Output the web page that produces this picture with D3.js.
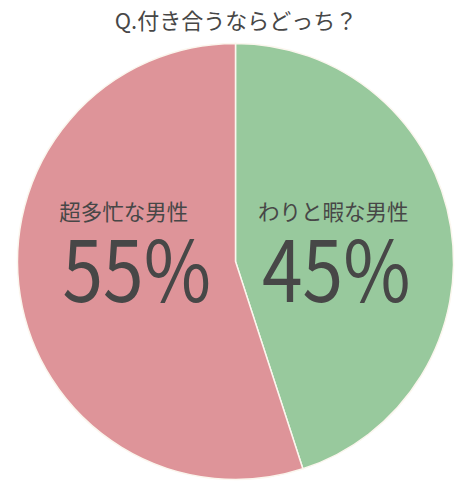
<!DOCTYPE html>
<html lang="ja">
<head>
<meta charset="UTF-8">
<title>付き合うならどっち？</title>
<script src="https://d3js.org/d3.v7.min.js"></script>
<style>
    body { margin: 0; background: #fff; }
    text { font-family: "Noto Sans CJK JP", "Noto Sans", sans-serif; fill: #474747; }
</style>
</head>
<body>
<svg id="chart" width="468" height="500"></svg>
<script>
    const title = "Q.付き合うならどっち？";
    const categories = ["わりと暇な男性", "超多忙な男性"];
    const values = [45, 55];
    const colors = ["#98c99d", "#de9499"];

    const svg = d3.select("#chart");
    const cx = 235.5, cy = 261.5, radius = 218;

    svg.append("text")
        .attr("x", 236)
        .attr("y", 29)
        .attr("text-anchor", "middle")
        .attr("font-size", 22)
        .text(title);

    const pie = d3.pie().sort(null).value(d => d.value);
    const arcs = pie(categories.map((c, i) => ({ name: c, value: values[i] })));

    const arc = d3.arc().innerRadius(0).outerRadius(radius);
    const labelArc = d3.arc().innerRadius(101).outerRadius(101);

    const g = svg.append("g").attr("transform", `translate(${cx},${cy})`);

    g.selectAll("path")
        .data(arcs)
        .enter().append("path")
        .attr("d", arc)
        .attr("fill", (d, i) => colors[i])
        .attr("stroke", "#fbf6ee")
        .attr("stroke-width", 1.5);

    // ラベルの微調整 (緑, ピンク)
    const nameShift = [-2, -12];

    g.selectAll(".name")
        .data(arcs)
        .enter().append("text")
        .attr("class", "name")
        .attr("text-anchor", "middle")
        .attr("font-size", 21.5)
        .attr("x", (d, i) => labelArc.centroid(d)[0] + nameShift[i])
        .attr("y", -42)
        .text(d => d.data.name);

    // 数字は少し細長く
    g.selectAll(".pct")
        .data(arcs)
        .enter().append("text")
        .attr("class", "pct")
        .attr("text-anchor", "middle")
        .attr("font-size", 85)
        .attr("transform", d => `translate(${labelArc.centroid(d)[0] + 1},40.5) scale(0.86,1)`)
        .text(d => d.data.value + "%");
</script>
</body>
</html>
